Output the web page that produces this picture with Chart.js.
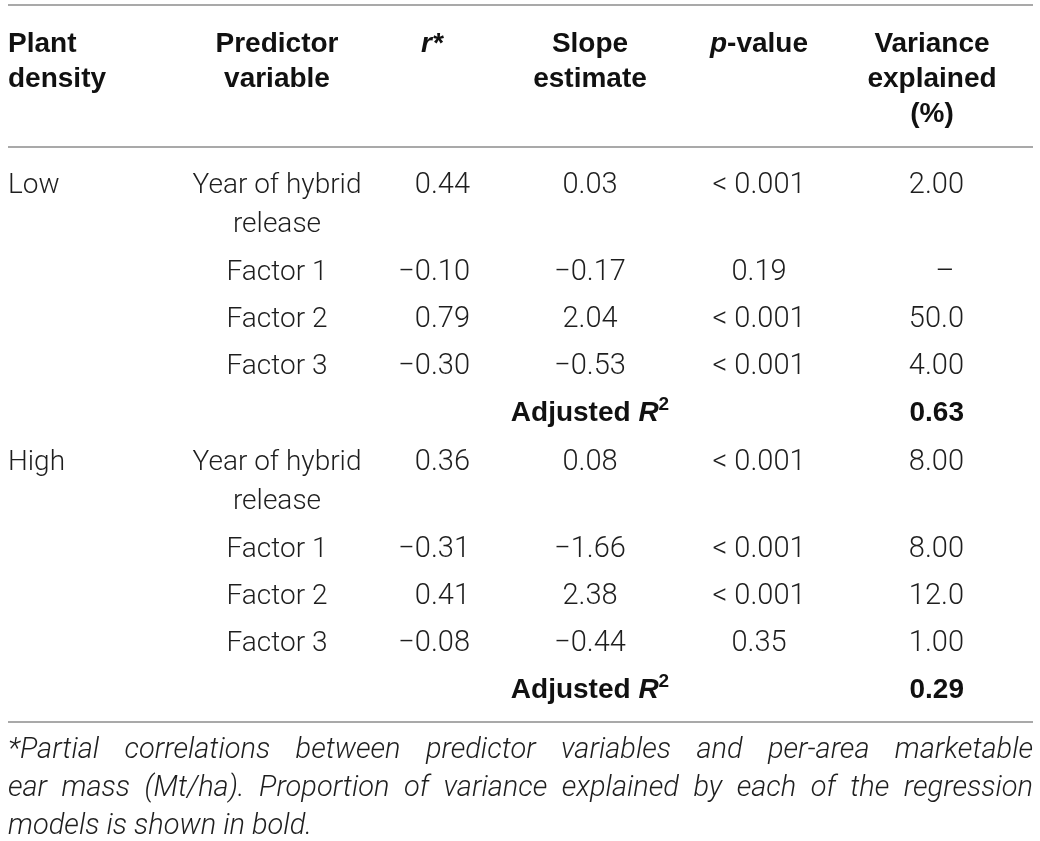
<!DOCTYPE html>
<html><head><meta charset="utf-8">
<script src="https://cdn.jsdelivr.net/npm/chart.js@4.4.1/dist/chart.umd.min.js"></script>
<style>html,body{margin:0;padding:0;background:#fff}canvas{display:block}</style>
</head><body>
<div style="width:1040px;height:841px"><canvas id="c" width="1040" height="841"></canvas></div>
<script>
// ---------- DATA ----------
const headerDensity = ["Plant", "density"];
const headerPredictor = ["Predictor", "variable"];
const headerR = "r*";
const headerSlope = ["Slope", "estimate"];
const headerP = "p-value";
const headerVariance = ["Variance", "explained", "(%)"];

const densities = ["Low", "High"];
const predictors = [["Year of hybrid", "release"], ["Factor 1"], ["Factor 2"], ["Factor 3"]];

const rLow = [0.44, -0.10, 0.79, -0.30];
const slopeLow = [0.03, -0.17, 2.04, -0.53];
const pLow = ["< 0.001", "0.19", "< 0.001", "< 0.001"];
const varianceLow = [2.00, null, 50.0, 4.00];
const adjR2Low = 0.63;

const rHigh = [0.36, -0.31, 0.41, -0.08];
const slopeHigh = [0.08, -1.66, 2.38, -0.44];
const pHigh = ["< 0.001", "< 0.001", "< 0.001", "0.35"];
const varianceHigh = [8.00, 8.00, 12.0, 1.00];
const adjR2High = 0.29;

const adjLabel = "Adjusted";
const footnoteLines = [
  "*Partial correlations between predictor variables and per-area marketable",
  "ear mass (Mt/ha). Proportion of variance explained by each of the regression",
  "models is shown in bold."
];

// ---------- LAYOUT / STYLE ----------
const LIGHT = "Roboto, 'Liberation Sans', sans-serif";
const BOLD = "'Liberation Sans', Arial, sans-serif";
const FS = 28;   // body text
const FSN = 29;  // numbers
const FSB = 28;  // bold headers
const FSF = 29;  // footnote
const colAnchor = { density: 8, predictor: 277, r: 470, rHead: 432, slope: 590, p: 759, variance: 964, varHead: 932, dash: 945, left: 8, right: 1033 };
const layoutY = { topRule: 5, head1: 52, headPitch: 35, headRule: 147, firstRow: 193, wrapPitch: 39, rowPitch: 47, groupGap: 49, bottomRule: 722, footFirst: 758, footPitch: 38 };

const fmt2 = v => (v < 0 ? "\u2212" : "") + Math.abs(v).toFixed(2);
const fmtVar = v => v === null ? "\u2013" : v.toPrecision(3);

const tablePlugin = {
  id: "tablePlugin",
  afterDraw(chart) {
    const ctx = chart.ctx, X = chart.scales.x, Y = chart.scales.y;
    const px = v => X.getPixelForValue(v), py = v => Y.getPixelForValue(v);
    ctx.save();
    ctx.textBaseline = "alphabetic";
    const text = (s, x, y, align, font, color) => {
      ctx.font = font; ctx.fillStyle = color || "#1e1e1e"; ctx.textAlign = align;
      ctx.fillText(s, px(x), py(y));
    };
    const rule = (y) => {
      ctx.strokeStyle = "#a9a9a9"; ctx.lineWidth = 2;
      ctx.beginPath(); ctx.moveTo(px(colAnchor.left), py(y)); ctx.lineTo(px(colAnchor.right), py(y)); ctx.stroke();
    };
    const bold = `bold ${FSB}px ${BOLD}`, boldIt = `italic bold ${FSB}px ${BOLD}`;
    const light = `300 ${FS}px ${LIGHT}`, num = `300 ${FSN}px ${LIGHT}`;
    const runs = (parts, x, y, align) => {
      let w = 0;
      parts.forEach(p => { ctx.font = p.font; p.w = ctx.measureText(p.s).width; w += p.w; });
      let start = align === "center" ? px(x) - w / 2 : align === "right" ? px(x) - w : px(x);
      parts.forEach(p => {
        ctx.font = p.font; ctx.fillStyle = "#111"; ctx.textAlign = "left";
        ctx.fillText(p.s, start, py(y) + (p.dy || 0)); start += p.w;
      });
    };

    rule(layoutY.topRule);
    const hy = i => layoutY.head1 + i * layoutY.headPitch;
    headerDensity.forEach((s, i) => text(s, colAnchor.density, hy(i), "left", bold, "#111"));
    headerPredictor.forEach((s, i) => text(s, colAnchor.predictor, hy(i), "center", bold, "#111"));
    runs([{ s: headerR[0], font: boldIt }, { s: headerR.slice(1), font: boldIt }], colAnchor.rHead, hy(0), "center");
    headerSlope.forEach((s, i) => text(s, colAnchor.slope, hy(i), "center", bold, "#111"));
    runs([{ s: headerP[0], font: boldIt }, { s: headerP.slice(1), font: bold }], colAnchor.p, hy(0), "center");
    headerVariance.forEach((s, i) => text(s, colAnchor.varHead, hy(i), "center", bold, "#111"));
    rule(layoutY.headRule);

    const groups = [
      { r: rLow, slope: slopeLow, p: pLow, v: varianceLow, adj: adjR2Low },
      { r: rHigh, slope: slopeHigh, p: pHigh, v: varianceHigh, adj: adjR2High }
    ];
    let y = layoutY.firstRow;
    groups.forEach((g, gi) => {
      if (gi > 0) y += layoutY.groupGap - layoutY.rowPitch;
      text(densities[gi], colAnchor.density, y, "left", light);
      predictors.forEach((lines, i) => {
        lines.forEach((s, li) => text(s, colAnchor.predictor, y + li * layoutY.wrapPitch, "center", light));
        text(fmt2(g.r[i]), colAnchor.r, y, "right", num);
        text(fmt2(g.slope[i]), colAnchor.slope, y, "center", num);
        text(g.p[i], colAnchor.p, y, "center", num);
        const vs = fmtVar(g.v[i]);
        if (g.v[i] === null) text(vs, colAnchor.dash, y, "center", num);
        else text(vs, colAnchor.variance, y, "right", num);
        y += (lines.length - 1) * layoutY.wrapPitch + layoutY.rowPitch + (lines.length > 1 ? 1 : 0);
      });
      runs([{ s: adjLabel + " ", font: bold }, { s: "R", font: boldIt }, { s: "2", font: `bold ${Math.round(FSB * 0.68)}px ${BOLD}`, dy: -11 }], colAnchor.slope, y, "center");
      text(g.adj.toFixed(2), colAnchor.variance, y, "right", bold, "#111");
      y += layoutY.rowPitch;
    });
    rule(layoutY.bottomRule);

    const fFont = `italic 300 ${FSF}px ${LIGHT}`;
    ctx.font = fFont; ctx.fillStyle = "#1e1e1e"; ctx.textAlign = "left";
    footnoteLines.forEach((line, i) => {
      const yy = py(layoutY.footFirst + i * layoutY.footPitch);
      const words = line.split(" ");
      if (i === footnoteLines.length - 1) { ctx.fillText(line, px(colAnchor.left), yy); return; }
      const ws = words.map(w => ctx.measureText(w).width);
      const total = ws.reduce((a, b) => a + b, 0);
      const gap = (px(colAnchor.right) - px(colAnchor.left) - total) / (words.length - 1);
      let xx = px(colAnchor.left);
      words.forEach((w, k) => { ctx.fillText(w, xx, yy); xx += ws[k] + gap; });
    });
    ctx.restore();
  }
};

function build() {
  new Chart(document.getElementById("c"), {
    type: "scatter",
    data: { datasets: [{ data: [], pointRadius: 0 }] },
    options: {
      responsive: false, animation: false, devicePixelRatio: 1,
      layout: { padding: 0 },
      plugins: { legend: { display: false }, tooltip: { enabled: false } },
      scales: {
        x: { type: "linear", min: 0, max: 1040, display: false },
        y: { type: "linear", min: 0, max: 841, reverse: true, display: false }
      }
    },
    plugins: [tablePlugin]
  });
}
Promise.all([
  document.fonts.load(`300 ${FS}px Roboto`),
  document.fonts.load(`italic 300 ${FSF}px Roboto`),
  document.fonts.load(`bold ${FSB}px 'Liberation Sans'`),
  document.fonts.load(`italic bold ${FSB}px 'Liberation Sans'`)
]).then(build, build);
</script>
</body></html>
